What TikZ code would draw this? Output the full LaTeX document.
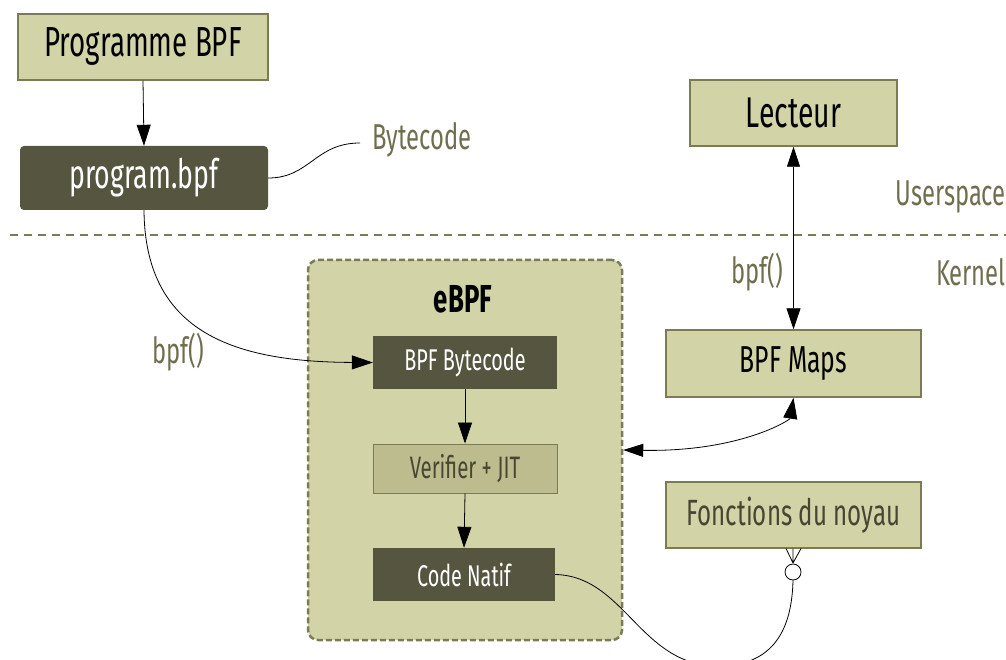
\documentclass[tikz,border=0pt]{standalone}
\usepackage{fontspec}
\setmainfont{Fira Sans}[FakeStretch=0.66]
\usetikzlibrary{arrows.meta}
\definecolor{boxfill}{HTML}{D3D3A8}
\definecolor{boxline}{HTML}{7B7B55}
\definecolor{darkfill}{HTML}{555540}
\definecolor{olive}{HTML}{6F6F4F}
\definecolor{vfill}{HTML}{BCBC8E}
\definecolor{vtext}{HTML}{464632}
\tikzset{
  lightbox/.style={draw=boxline, line width=1.5pt, fill=boxfill, inner sep=0pt},
  darkbox/.style={draw=none, fill=darkfill, text=white, inner sep=0pt},
  conn/.style={draw=black, line width=0.8pt},
  tip/.style={},
  arr/.style={conn, -{Triangle[length=21pt,width=14pt]}},
  darr/.style={conn, {Triangle[length=20pt,width=13pt]}-{Triangle[length=21pt,width=14pt]}},
  lbl/.style={text=olive, inner sep=0pt, font=\fontsize{36}{36}\selectfont},
}
\begin{document}
\begin{tikzpicture}[x=1pt,y=-1pt]
\useasboundingbox (0,0) rectangle (1006,660);
% separator
\draw[boxline, line width=2pt, dash pattern=on 8pt off 6pt] (10,235) -- (1006,235);
% eBPF container
\node[draw=boxline, fill=boxfill, line width=2.5pt, dash pattern=on 6pt off 3pt, rounded corners=10pt, minimum width=314pt, minimum height=380pt, inner sep=0pt] (ebpf) at (465,450) {};
\node[inner sep=0pt, font=\fontsize{39}{39}\selectfont\bfseries] (ebpft) at (463,299) {eBPF};
% boxes
\node[lightbox, minimum width=250pt, minimum height=66pt, font=\fontsize{42}{42}\selectfont] (prog) at (143,47) {Programme BPF};
\node[darkbox, rounded corners=4pt, minimum width=248pt, minimum height=64pt, font=\fontsize{40.5}{40.5}\selectfont] (pbpf) at (144,178) {program.bpf};
\node[lightbox, minimum width=207pt, minimum height=66pt, font=\fontsize{43}{43}\selectfont] (lect) at (793.5,113) {Lecteur};
\node[lightbox, minimum width=255pt, minimum height=67pt, font=\fontsize{37.5}{37.5}\selectfont] (maps) at (793.5,363.5) {BPF Maps};
\node[lightbox, minimum width=255pt, minimum height=66pt, text=vtext, font=\fontsize{36.5}{36.5}\selectfont] (fonc) at (793.5,515) {Fonctions du noyau};
\node[darkbox, minimum width=184pt, minimum height=53pt, font=\fontsize{30}{30}\selectfont] (bbc) at (465,362.5) {BPF Bytecode};
\node[draw=boxline, line width=1pt, fill=vfill, text=vtext, minimum width=184pt, minimum height=49pt, inner sep=0pt, font=\fontsize{31}{31}\selectfont] (vjit) at (465,468.5) {Verifier + JIT};
\node[darkbox, minimum width=182pt, minimum height=53pt, font=\fontsize{30}{30}\selectfont] (cnat) at (464,574.5) {Code Natif};
% labels
\node[lbl, anchor=west] (bytecode) at (372,140) {Bytecode};
\node[lbl, anchor=east] (user) at (1006,197) {Userspace};
\node[lbl, anchor=east] (kern) at (1006,272) {Kernel};
\node[lbl] (bpfl) at (178,352) {bpf()};
\node[lbl] (bpfr) at (757,272) {bpf()};
% connectors
\draw[arr] (prog.south) -- (pbpf.north);
\coordinate (bcend) at (360,143);
\draw[conn] (pbpf.east) .. controls (310,178) and (315,143) .. (bcend);
\draw[arr] (pbpf.south) .. controls (145,330) and (230,362) .. (bbc.west);
\draw[darr] (lect.south) -- (maps.north);
\draw[arr] (bbc.south) -- (vjit.north);
\draw[arr] (vjit.south) -- (cnat.north);
\draw[darr] (ebpf.east) .. controls (740,452) and (790,420) .. (maps.south);
% crow's foot
\node[draw=black, line width=0.8pt, fill=white, circle, minimum size=16pt, inner sep=0pt] (circ) at (793,572) {};
\coordinate (cf) at (793,563);
\draw[conn] (cf) -- (786,548.5) (cf) -- (801,548.5) (cf) -- (793,548.5);
\coordinate (low) at (718,666);
\draw[conn] (cnat.east) .. controls (625,576) and (640,666) .. (low) .. controls (780,666) and (792,620) .. (circ.south);
\end{tikzpicture}
\end{document}
